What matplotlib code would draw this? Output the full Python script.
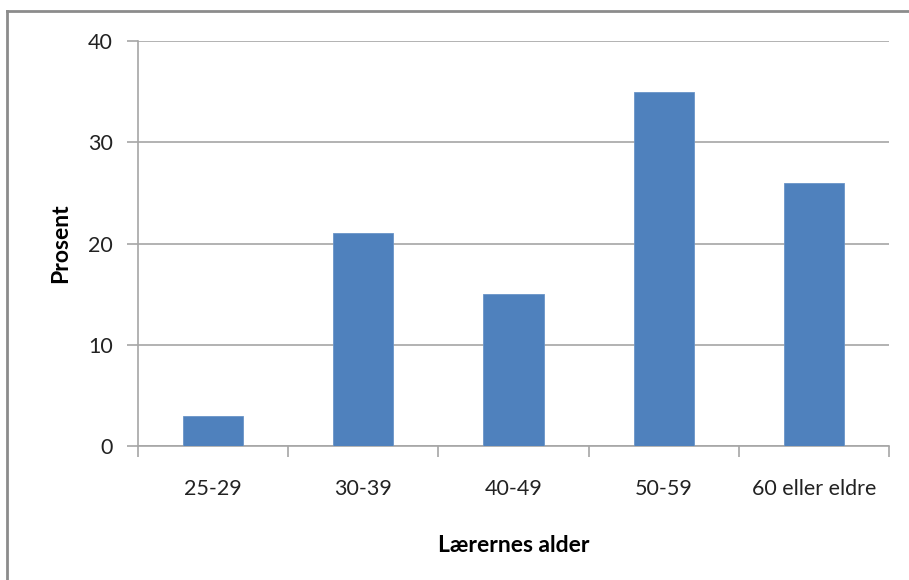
import matplotlib
matplotlib.use("Agg")
import matplotlib.pyplot as plt
from matplotlib.lines import Line2D
import numpy as np

categories = ["25-29", "30-39", "40-49", "50-59", "60 eller eldre"]
values = [3, 21, 15, 35, 26]
yticks = [0, 10, 20, 30, 40]

plt.rcParams['font.family'] = ['Lato', 'DejaVu Sans']

W, H = 909, 580
fig = plt.figure(figsize=(W / 100, H / 100), dpi=100)
ax = fig.add_axes([138 / W, 1 - 446 / H, (889 - 138) / W, (446 - 41) / H])

x = np.arange(len(categories))
ax.bar(x, values, width=0.4, color="#4F81BD", edgecolor="#6A94C8", linewidth=0.6, zorder=3)

ax.set_xlim(-0.5, len(categories) - 0.5)
ax.set_ylim(0, 40)

grid_c = "#A6A6A6"
ax.set_yticks(yticks)
ax.set_yticklabels([str(t) for t in yticks], fontsize=15.5, color="#222222")
ax.yaxis.grid(True, color=grid_c, linewidth=1.2, zorder=0)

ax.set_xticks(np.arange(-0.5, len(categories), 1.0))
ax.set_xticklabels([])
ax.set_xticks(x, minor=True)
ax.set_xticklabels(categories, minor=True, fontsize=15.5, color="#222222")
ax.tick_params(axis="x", which="minor", length=0, pad=24)
ax.tick_params(axis="x", which="major", length=8, color=grid_c, width=1.2)
ax.tick_params(axis="y", length=8, color=grid_c, width=1.2, pad=10)

for side in ("top", "right"):
    ax.spines[side].set_visible(False)
for side in ("left", "bottom"):
    ax.spines[side].set_color(grid_c)
    ax.spines[side].set_linewidth(1.2)

ax.set_ylabel("Prosent", fontsize=16.5, fontweight="bold", labelpad=12)
ax.set_xlabel("Lærernes alder", fontsize=16.5, fontweight="bold", labelpad=26)

# outer frame (top and left edges)
fig.add_artist(Line2D([7.5 / W, 1], [1 - 10.5 / H, 1 - 10.5 / H], transform=fig.transFigure,
                      color="#8C8C8C", linewidth=2))
fig.add_artist(Line2D([7.5 / W, 7.5 / W], [0, 1 - 10.5 / H], transform=fig.transFigure,
                      color="#8C8C8C", linewidth=2))

fig.savefig("out.png", dpi=100)
